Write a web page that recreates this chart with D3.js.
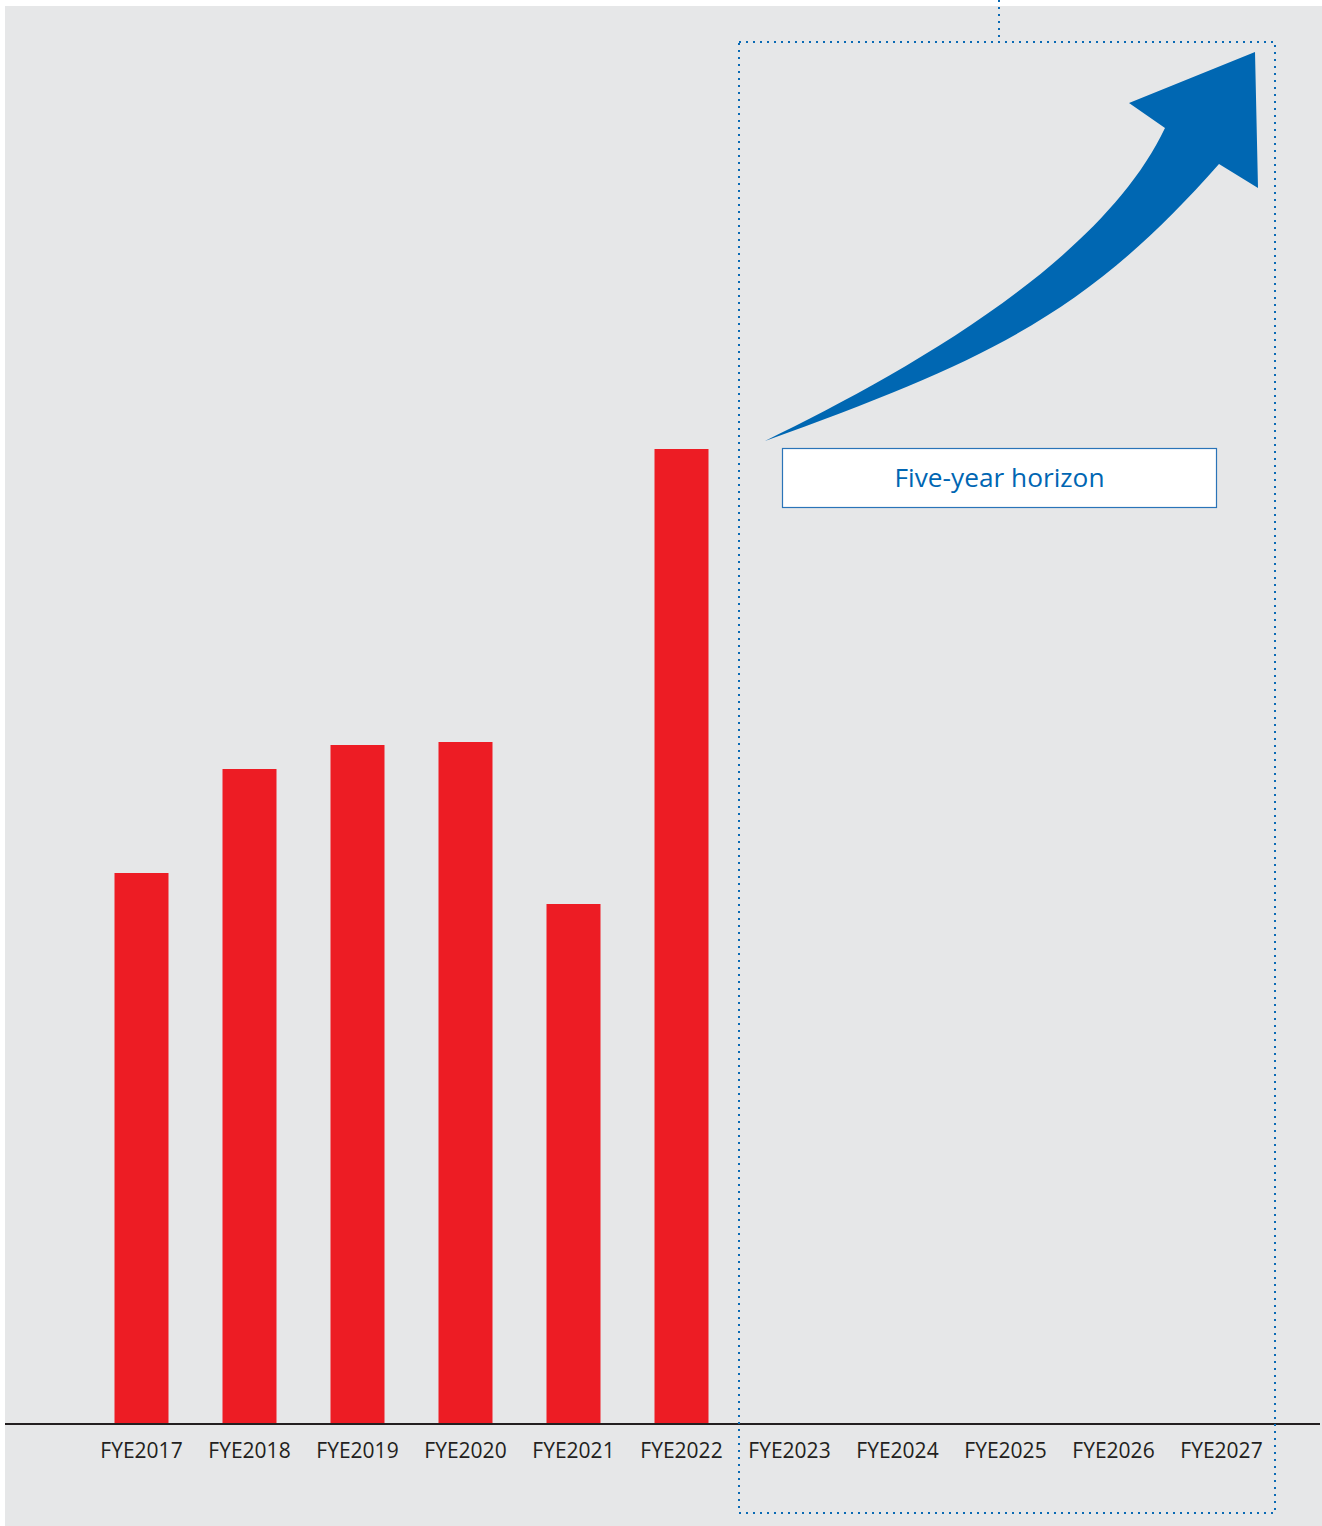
<!DOCTYPE html>
<meta charset="utf-8">
<script src="https://d3js.org/d3.v7.min.js"></script>
<style>
body { margin: 0; background: #fff; }
.tick text { font-family: "Open Sans", sans-serif; font-size: 21px; fill: #231f20; }
</style>
<body>
<script>

// fiscal years shown on the axis; only the first six have results
let years = ['FYE2017', 'FYE2018', 'FYE2019', 'FYE2020', 'FYE2021', 'FYE2022',
             'FYE2023', 'FYE2024', 'FYE2025', 'FYE2026', 'FYE2027'];
let barYears = ['FYE2017', 'FYE2018', 'FYE2019', 'FYE2020', 'FYE2021', 'FYE2022'];
let barValues = [551, 655, 679, 682, 520, 975];   // relative index
let horizonLabel = 'Five-year horizon';

let width = 1322,
    height = 1526,
    baseY = 1424;

let svg = d3.select("body").append("svg")
    .attr("width", width)
    .attr("height", height);

svg.append("rect")
    .attr("x", 5).attr("y", 6)
    .attr("width", width - 5).attr("height", height - 6)
    .attr("fill", "#e6e7e8");

let x = d3.scaleBand()
    .domain(years)
    .range([87.5, 1275.5])
    .paddingInner(0.5)
    .paddingOuter(0.25);

let y = d3.scaleLinear()
    .domain([0, 1000])
    .range([baseY, baseY - 1000]);

// bars
svg.selectAll(".bar")
    .data(barYears.map((d, i) => ({year: d, value: barValues[i]})))
    .enter().append("rect")
    .attr("class", "bar")
    .attr("x", d => x(d.year))
    .attr("width", x.bandwidth())
    .attr("y", d => y(d.value))
    .attr("height", d => y(0) - y(d.value))
    .attr("fill", "#ed1c24");

// axis
let axis = svg.append("g")
    .attr("transform", `translate(0,${baseY})`)
    .call(d3.axisBottom(x).tickSize(0).tickPadding(19));
axis.select(".domain").remove();

svg.append("line")
    .attr("x1", 5).attr("x2", width - 2)
    .attr("y1", baseY).attr("y2", baseY)
    .attr("stroke", "#231f20")
    .attr("stroke-width", 2);

// dotted forecast frame
let blue = "#0a6ab4";
let frame = {left: 739, right: 1275, top: 42, bottom: 1513};

svg.append("rect")
    .attr("x", frame.left).attr("y", frame.top)
    .attr("width", frame.right - frame.left)
    .attr("height", frame.bottom - frame.top)
    .attr("fill", "none")
    .attr("stroke", blue)
    .attr("stroke-width", 2)
    .attr("stroke-dasharray", "2,5");

svg.append("line")
    .attr("x1", 999).attr("x2", 999)
    .attr("y1", 0).attr("y2", frame.top)
    .attr("stroke", blue)
    .attr("stroke-width", 2)
    .attr("stroke-dasharray", "2,5");

// growth arrow: curved shaft, then head
let p = d3.path();
p.moveTo(765, 441);
p.bezierCurveTo(900, 375, 1100, 265, 1165, 128);
p.lineTo(1129, 103);
p.lineTo(1255, 52);
p.lineTo(1258, 188);
p.lineTo(1219, 164);
p.bezierCurveTo(1089, 311, 995, 358, 765, 441);
p.closePath();

svg.append("path")
    .attr("d", p.toString())
    .attr("fill", "#0067b2");

// label box
svg.append("rect")
    .attr("x", 782.5).attr("y", 448.5)
    .attr("width", 434).attr("height", 59)
    .attr("fill", "#fff")
    .attr("stroke", "#2a74b8")
    .attr("stroke-width", 1.2);

svg.append("text")
    .attr("x", 999.5).attr("y", 487)
    .attr("text-anchor", "middle")
    .attr("font-family", "Open Sans, sans-serif")
    .attr("font-size", 26)
    .attr("fill", "#0066b3")
    .attr("textLength", 210)
    .attr("lengthAdjust", "spacingAndGlyphs")
    .text(horizonLabel);

</script>
